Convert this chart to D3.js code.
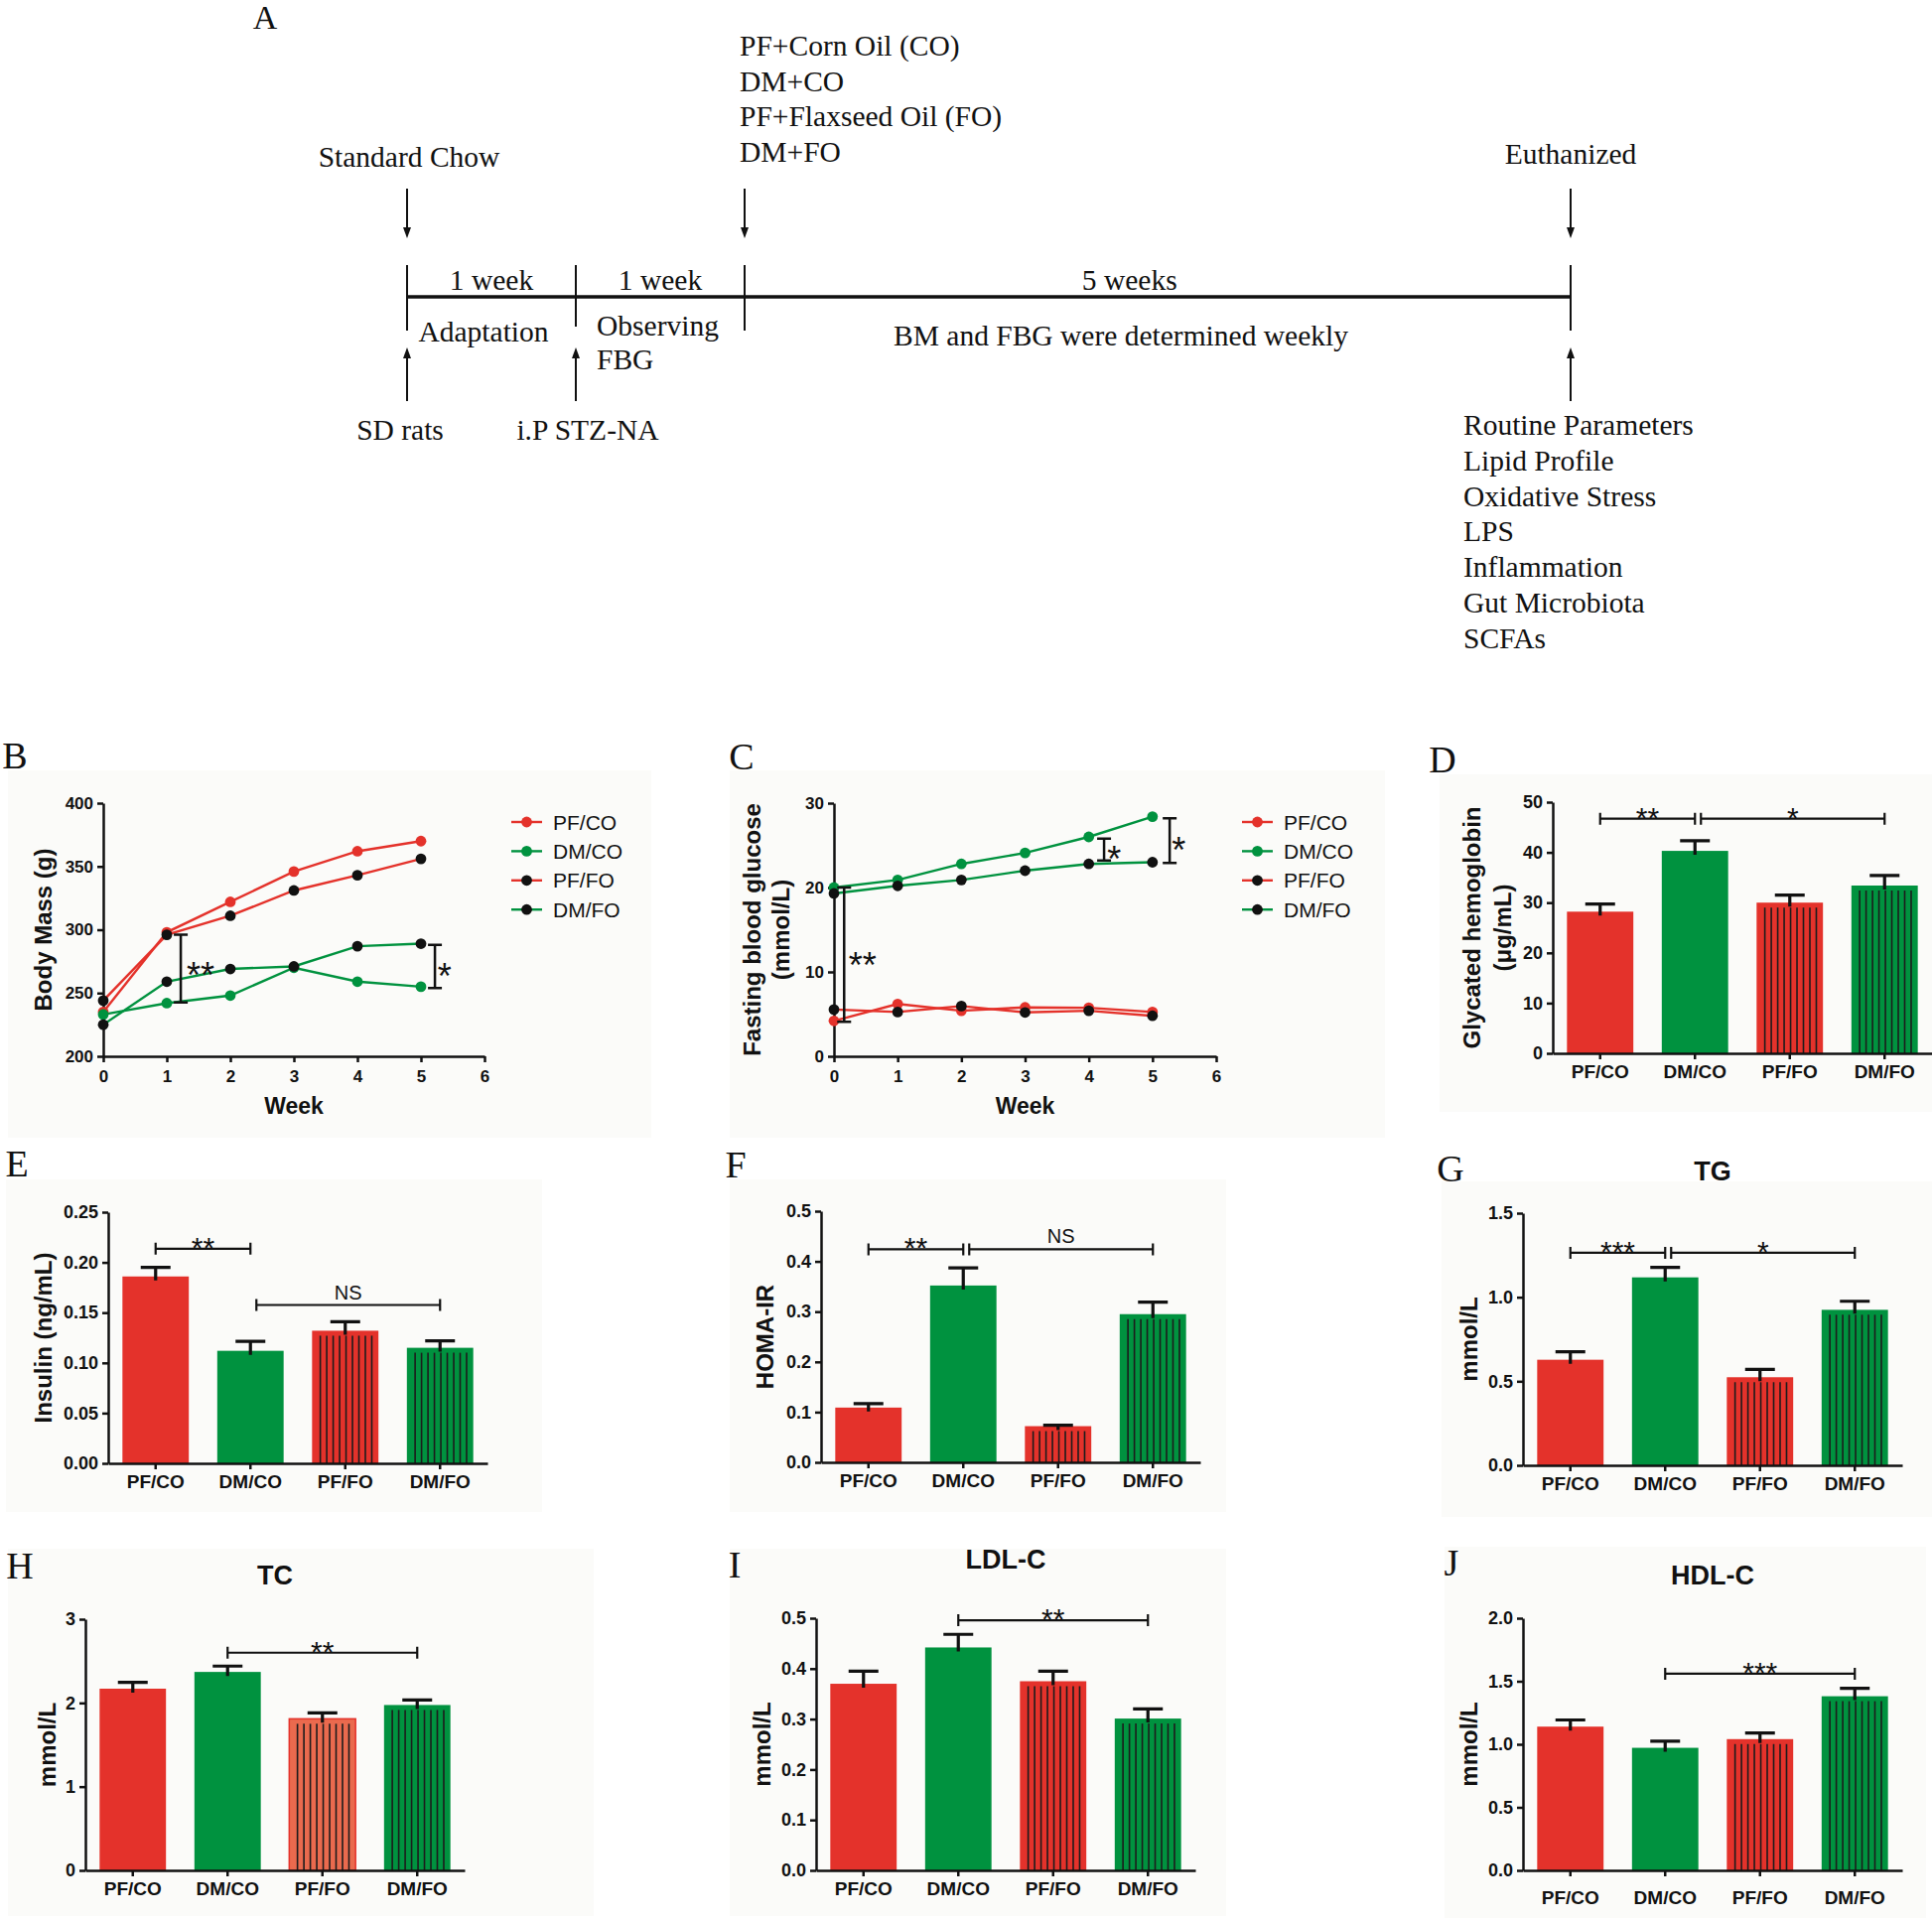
<!DOCTYPE html>
<html>
<head>
<meta charset="utf-8">
<title>Flaxseed oil in STZ-NA rats</title>
<script src="https://cdn.jsdelivr.net/npm/d3@7"></script>
<style>
  body { margin: 0; background: #fff; }
  svg { display: block; }
</style>
</head>
<body>
<svg id="fig" width="1946" height="1934"></svg>
<script>
// ---------- data ----------
var groups = ["PF/CO", "DM/CO", "PF/FO", "DM/FO"]
var weeks = [0, 1, 2, 3, 4, 5]
var weekTicks = [0, 1, 2, 3, 4, 5, 6]

// A: study timeline
var phaseEdges = [0, 1, 2, 7]
var phaseLength = ["1 week", "1 week", "5 weeks"]
var treatments = ["PF+Corn Oil (CO)", "DM+CO", "PF+Flaxseed Oil (FO)", "DM+FO"]
var endpoints = ["Routine Parameters", "Lipid Profile", "Oxidative  Stress", "LPS",
                 "Inflammation", "Gut Microbiota", "SCFAs"]

// B: body mass (g)
var bmPFCO = [235, 298, 322, 346, 362, 370]
var bmDMCO = [233, 242, 248, 270, 259, 255]
var bmPFFO = [244, 296, 311, 331, 343, 356]
var bmDMFO = [225, 259, 269, 271, 287, 289]
var bmTicks = [200, 250, 300, 350, 400]

// C: fasting blood glucose (mmol/L)
var fbgPFCO = [4.2, 6.2, 5.4, 5.8, 5.75, 5.25]
var fbgDMCO = [20.0, 20.9, 22.8, 24.1, 26.0, 28.4]
var fbgPFFO = [5.55, 5.25, 5.95, 5.2, 5.4, 4.8]
var fbgDMFO = [19.3, 20.2, 20.9, 22.0, 22.8, 23.0]
var fbgTicks = [0, 10, 20, 30]

// D-J: group mean and SEM
var hbMean = [28.2, 40.3, 30.0, 33.4]
var hbSem = [1.5, 2.0, 1.5, 2.0]
var hbTicks = [0, 10, 20, 30, 40, 50]
var insMean = [0.186, 0.112, 0.132, 0.115]
var insSem = [0.009, 0.0095, 0.009, 0.007]
var insTicks = [0, 0.05, 0.10, 0.15, 0.20, 0.25]
var homaMean = [0.109, 0.352, 0.072, 0.295]
var homaSem = [0.008, 0.035, 0.002, 0.024]
var homaTicks = [0, 0.1, 0.2, 0.3, 0.4, 0.5]
var tgMean = [0.628, 1.118, 0.524, 0.925]
var tgSem = [0.047, 0.059, 0.047, 0.051]
var tgTicks = [0, 0.5, 1.0, 1.5]
var tcMean = [2.17, 2.37, 1.81, 1.975]
var tcSem = [0.075, 0.07, 0.07, 0.06]
var tcTicks = [0, 1, 2, 3]
var ldlMean = [0.370, 0.442, 0.375, 0.301]
var ldlSem = [0.025, 0.026, 0.02, 0.019]
var ldlTicks = [0, 0.1, 0.2, 0.3, 0.4, 0.5]
var hdlMean = [1.14, 0.972, 1.041, 1.381]
var hdlSem = [0.053, 0.053, 0.049, 0.063]
var hdlTicks = [0, 0.5, 1.0, 1.5, 2.0]

// significance: [week, low, high, label, label week, label level]
var bmSig = [[1.22, 242.5, 296, "**", 1.53, 270], [5.22, 254, 288, "*", 5.37, 269]]
var fbgSig = [[0.16, 4.1, 20, "**", 0.45, 11.7], [4.24, 23.2, 25.8, "*", 4.4, 24.3],
              [5.27, 22.9, 28.2, "*", 5.41, 25.3]]
// significance: [from group, to group, level, label]
var hbSig = [[0, 1, 46.7, "**"], [1, 3, 46.7, "*"]]
var insSig = [[0, 1, 0.2136, "**"], [1, 3, 0.1576, "NS"]]
var homaSig = [[0, 1, 0.424, "**"], [1, 3, 0.424, "NS"]]
var tgSig = [[0, 1, 1.264, "***"], [1, 3, 1.264, "*"]]
var tcSig = [[1, 3, 2.6, "**"]]
var ldlSig = [[1, 3, 0.496, "**"]]
var hdlSig = [[1, 3, 1.56, "***"]]

// ---------- drawing ----------
var svg = d3.select("#fig")
var SANS = "'Liberation Sans', Arial, sans-serif"
var SERIF = "'Liberation Serif', 'Times New Roman', serif"
var RED = "#e4322b", GREEN = "#00923f", INK = "#111"

// faint panel backgrounds
var boxes = [[8, 776, 648, 370], [735, 776, 660, 370], [1450, 780, 496, 340],
             [6, 1188, 540, 335], [735, 1188, 500, 335], [1452, 1190, 494, 338],
             [8, 1560, 590, 370], [735, 1560, 500, 370], [1455, 1558, 485, 374]]
svg.selectAll("rect.bg").data(boxes).join("rect")
    .attr("class", "bg")
    .attr("x", function(d){ return d[0] })
    .attr("y", function(d){ return d[1] })
    .attr("width", function(d){ return d[2] })
    .attr("height", function(d){ return d[3] })
    .attr("fill", "#fbfbf9")

function txt(g, x, y, t, o) {
    o = o || {}
    return g.append("text")
        .attr("x", x).attr("y", y)
        .attr("text-anchor", o.anchor || "middle")
        .attr("dominant-baseline", o.base || "central")
        .style("font-family", o.family || SANS)
        .style("font-size", (o.size || 18) + "px")
        .style("font-weight", o.bold ? "bold" : "normal")
        .attr("fill", INK)
        .text(t)
}

function styleAxis(sel, fs) {
    sel.select(".domain").attr("stroke", INK).attr("stroke-width", 2.5)
    sel.selectAll(".tick line").attr("stroke", INK).attr("stroke-width", 2.5)
    sel.selectAll(".tick text").attr("fill", INK)
        .style("font-family", SANS).style("font-weight", "bold").style("font-size", fs + "px")
}

// ---- A: timeline ----
var gA = svg.append("g")
var tl = d3.scaleLinear().domain(phaseEdges).range([410, 580, 750, 1582])
var tlY = 299
var serif = { family: SERIF, size: 29.5 }

txt(gA, 267, 17, "A", { family: SERIF, size: 34 })
gA.append("line").attr("x1", tl(0)).attr("x2", tl(7)).attr("y1", tlY).attr("y2", tlY)
    .attr("stroke", INK).attr("stroke-width", 3.5)
gA.selectAll("line.edge").data(phaseEdges).join("line")
    .attr("class", "edge")
    .attr("x1", function(d){ return tl(d) }).attr("x2", function(d){ return tl(d) })
    .attr("y1", 267).attr("y2", function(d){ return d == 1 ? 329 : 333 })
    .attr("stroke", INK).attr("stroke-width", 2)

function arrow(x, y1, y2) {
    var dir = y2 > y1 ? 1 : -1
    gA.append("line").attr("x1", x).attr("x2", x).attr("y1", y1).attr("y2", y2 - dir * 8)
        .attr("stroke", INK).attr("stroke-width", 2)
    gA.append("path")
        .attr("d", "M" + (x - 4) + "," + (y2 - dir * 11) + "L" + (x + 4) + "," + (y2 - dir * 11) + "L" + x + "," + y2 + "Z")
        .attr("fill", INK)
}
;[0, 2, 7].forEach(function(w){ arrow(tl(w), 190, 240) })
;[0, 1, 7].forEach(function(w){ arrow(tl(w), 404, 350) })

var phaseMid = [0.5, 1.5, 4.33]
phaseLength.forEach(function(t, i){ txt(gA, tl(phaseMid[i]), 282, t, serif) })
txt(gA, 487, 334, "Adaptation", serif)
txt(gA, tl(1) + 21, 328, "Observing", Object.assign({ anchor: "start" }, serif))
txt(gA, tl(1) + 21, 362, "FBG", Object.assign({ anchor: "start" }, serif))
txt(gA, 1129, 338, "BM and FBG were determined  weekly", serif)
txt(gA, tl(0) + 2, 158, "Standard  Chow", serif)
txt(gA, tl(7), 155, "Euthanized", serif)
txt(gA, tl(0) - 7, 433, "SD rats", serif)
txt(gA, tl(1) + 12, 433, "i.P  STZ-NA", serif)
treatments.forEach(function(t, i){
    txt(gA, tl(2) - 5, 46 + i * 35.7, t, Object.assign({ anchor: "start" }, serif))
})
endpoints.forEach(function(t, i){
    txt(gA, 1474, 428 + i * 35.8, t, Object.assign({ anchor: "start" }, serif))
})

// ---- line panels ----
function linePanel(p) {
    var g = svg.append("g")
    var x = d3.scaleLinear().domain([0, 6]).range([p.left, p.right])
    var y = d3.scaleLinear().domain(p.domain).range([p.bottom, p.top])

    g.append("g").attr("transform", "translate(0," + p.bottom + ")")
        .call(d3.axisBottom(x).tickValues(weekTicks).tickFormat(d3.format("d"))
            .tickSize(6).tickSizeOuter(0).tickPadding(8))
        .call(styleAxis, 17)
    g.append("g").attr("transform", "translate(" + p.left + ",0)")
        .call(d3.axisLeft(y).tickValues(p.ticks).tickFormat(d3.format("d"))
            .tickSize(6).tickSizeOuter(0).tickPadding(4))
        .call(styleAxis, 17)

    var line = d3.line()
        .x(function(d, i){ return x(weeks[i]) })
        .y(function(d){ return y(d) })
    p.series.forEach(function(s){
        g.append("path").attr("d", line(s.vals))
            .attr("fill", "none").attr("stroke", s.line).attr("stroke-width", 2.4)
    })
    p.series.forEach(function(s){
        g.append("g").selectAll("circle").data(s.vals).join("circle")
            .attr("cx", function(d, i){ return x(weeks[i]) })
            .attr("cy", function(d){ return y(d) })
            .attr("r", 5.4)
            .attr("fill", s.dot)
    })

    p.sig.forEach(function(b){
        var bx = x(b[0]), y1 = y(b[1]), y2 = y(b[2])
        g.append("path")
            .attr("d", "M" + (bx - 7) + "," + y1 + "H" + (bx + 7) + "M" + bx + "," + y1 + "V" + y2 +
                       "M" + (bx - 7) + "," + y2 + "H" + (bx + 7))
            .attr("stroke", INK).attr("stroke-width", 2.5).attr("fill", "none")
        txt(g, x(b[4]), y(b[5]) + 0.56 * 36, b[3], { size: 36, base: "alphabetic" })
    })

    p.series.forEach(function(s, i){
        var ly = 828 + i * 29.4
        g.append("line").attr("x1", p.legendX).attr("x2", p.legendX + 31)
            .attr("y1", ly).attr("y2", ly).attr("stroke", s.line).attr("stroke-width", 2.4)
        g.append("circle").attr("cx", p.legendX + 15.5).attr("cy", ly).attr("r", 5.4).attr("fill", s.dot)
        txt(g, p.legendX + 42, ly, s.name, { anchor: "start", size: 21 })
    })

    txt(g, (p.left + p.right) / 2, p.bottom + 50, "Week", { size: 23, bold: true })
    p.ylab.forEach(function(t, i){
        txt(g, 0, 0, t, { size: 24, bold: true })
            .attr("transform", "translate(" + p.ylabX[i] + "," + (p.top + p.bottom) / 2 + ") rotate(-90)")
    })
    txt(g, p.letter[1], p.letter[2], p.letter[0], { family: SERIF, size: 38 })
}

function seriesOf(a, b, c, d) {
    return [
        { name: groups[0], vals: a, line: RED, dot: RED },
        { name: groups[1], vals: b, line: GREEN, dot: GREEN },
        { name: groups[2], vals: c, line: RED, dot: INK },
        { name: groups[3], vals: d, line: GREEN, dot: INK }
    ]
}

linePanel({ left: 104, right: 488, top: 809, bottom: 1064, domain: [200, 400], ticks: bmTicks,
    series: seriesOf(bmPFCO, bmDMCO, bmPFFO, bmDMFO), sig: bmSig, legendX: 515,
    ylab: ["Body Mass (g)"], ylabX: [43], letter: ["B", 15, 761] })
linePanel({ left: 840, right: 1225, top: 809, bottom: 1064, domain: [0, 30], ticks: fbgTicks,
    series: seriesOf(fbgPFCO, fbgDMCO, fbgPFFO, fbgDMFO), sig: fbgSig, legendX: 1251,
    ylab: ["Fasting blood glucose", "(mmol/L)"], ylabX: [757, 786], letter: ["C", 747, 762] })

// ---- bar panels ----
function barPanel(p) {
    var g = svg.append("g")
    var x = d3.scaleBand().domain(groups).range([p.left, p.left + 382])
        .paddingInner(0.3).paddingOuter(0.15)
    var y = d3.scaleLinear().domain([0, p.ticks[p.ticks.length - 1]]).range([p.bottom, p.top])
    var bw = x.bandwidth()
    var fills = p.fills || [RED, GREEN, RED, GREEN]

    g.selectAll("rect.bar").data(groups).join("rect")
        .attr("x", function(d){ return x(d) })
        .attr("y", function(d, i){ return y(p.mean[i]) })
        .attr("width", bw)
        .attr("height", function(d, i){ return y(0) - y(p.mean[i]) })
        .attr("fill", function(d, i){ return fills[i] })
        .attr("stroke", function(d, i){ return p.fills && i == 2 ? RED : "none" })
        .attr("stroke-width", 1.5)

    // vertical hatching on the flaxseed oil groups
    var hatch = d3.range(9)
    ;[2, 3].forEach(function(i){
        var bx = x(groups[i]), top = y(p.mean[i]) + 5
        g.selectAll(null).data(hatch).join("line")
            .attr("x1", function(k){ return bx + 8.3 + k * (bw - 15) / 8 })
            .attr("x2", function(k){ return bx + 8.3 + k * (bw - 15) / 8 })
            .attr("y1", top).attr("y2", y(0))
            .attr("stroke", "#1c1c1c").attr("stroke-width", 1.6)
    })

    // error bars (mean + SEM)
    g.selectAll("path.err").data(groups).join("path")
        .attr("d", function(d, i){
            var cx = x(d) + bw / 2, yt = y(p.mean[i] + p.sem[i])
            return "M" + cx + "," + (y(p.mean[i]) + 4) + "V" + yt + "M" + (cx - 15) + "," + yt + "H" + (cx + 15)
        })
        .attr("stroke", INK).attr("stroke-width", 3.2).attr("fill", "none")

    g.append("g").attr("transform", "translate(0," + p.bottom + ")")
        .call(d3.axisBottom(x).tickSize(6).tickSizeOuter(0).tickPadding(p.xPad || 6))
        .call(styleAxis, 19)
    g.append("g").attr("transform", "translate(" + p.left + ",0)")
        .call(d3.axisLeft(y).tickValues(p.ticks).tickFormat(d3.format(p.fmt)).tickSize(6).tickSizeOuter(0).tickPadding(4))
        .call(styleAxis, 18)

    // comparison brackets
    p.sig.forEach(function(b){
        var shift = p.sig.some(function(o){ return o[1] == b[0] }) ? 6 : 0
        var x0 = x(groups[b[0]]) + bw / 2 + shift, x1 = x(groups[b[1]]) + bw / 2, by = y(b[2])
        g.append("path")
            .attr("d", "M" + x0 + "," + (by - 6) + "V" + (by + 6) + "M" + x0 + "," + by + "H" + x1 +
                       "M" + x1 + "," + (by - 6) + "V" + (by + 6))
            .attr("stroke", INK).attr("stroke-width", 2.2).attr("fill", "none")
        if (b[3] == "NS") txt(g, (x0 + x1) / 2, by - 6, b[3], { size: 20, base: "alphabetic" })
        else txt(g, (x0 + x1) / 2, by + 9, b[3], { size: 30, base: "alphabetic" })
    })

    p.ylab.forEach(function(t, i){
        txt(g, 0, 0, t, { size: 24, bold: true })
            .attr("transform", "translate(" + p.ylabX[i] + "," + (p.top + p.bottom) / 2 + ") rotate(-90)")
    })
    if (p.title) txt(g, p.left + 191, p.titleY, p.title, { size: 27, bold: true })
    txt(g, p.letter[1], p.letter[2], p.letter[0], { family: SERIF, size: 38 })
}

barPanel({ left: 1564, top: 808, bottom: 1061, mean: hbMean, sem: hbSem, ticks: hbTicks, fmt: "d",
    sig: hbSig, ylab: ["Glycated hemoglobin", "(\u03bcg/mL)"], ylabX: [1482, 1513], letter: ["D", 1453, 765] })
barPanel({ left: 109, top: 1221, bottom: 1474, mean: insMean, sem: insSem, ticks: insTicks, fmt: ".2f",
    sig: insSig, ylab: ["Insulin (ng/mL)"], ylabX: [43], letter: ["E", 17, 1172] })
barPanel({ left: 827, top: 1220, bottom: 1473, mean: homaMean, sem: homaSem, ticks: homaTicks, fmt: ".1f",
    sig: homaSig, ylab: ["HOMA-IR"], ylabX: [770], letter: ["F", 741, 1173] })
barPanel({ left: 1534, top: 1222, bottom: 1476, mean: tgMean, sem: tgSem, ticks: tgTicks, fmt: ".1f",
    sig: tgSig, ylab: ["mmol/L"], ylabX: [1479], title: "TG", titleY: 1180, letter: ["G", 1461, 1177] })
barPanel({ left: 86, top: 1631, bottom: 1884, mean: tcMean, sem: tcSem, ticks: tcTicks, fmt: "d",
    sig: tcSig, ylab: ["mmol/L"], ylabX: [47], title: "TC", titleY: 1587, letter: ["H", 20, 1577],
    fills: [RED, GREEN, "#ea6a4e", GREEN] })
barPanel({ left: 822, top: 1630, bottom: 1884, mean: ldlMean, sem: ldlSem, ticks: ldlTicks, fmt: ".1f",
    sig: ldlSig, ylab: ["mmol/L"], ylabX: [767], title: "LDL-C", titleY: 1571, letter: ["I", 740, 1576] })
barPanel({ left: 1534, top: 1630, bottom: 1884, mean: hdlMean, sem: hdlSem, ticks: hdlTicks, fmt: ".1f",
    sig: hdlSig, ylab: ["mmol/L"], ylabX: [1479], title: "HDL-C", titleY: 1587, letter: ["J", 1462, 1574],
    xPad: 15 })
</script>
</body>
</html>
